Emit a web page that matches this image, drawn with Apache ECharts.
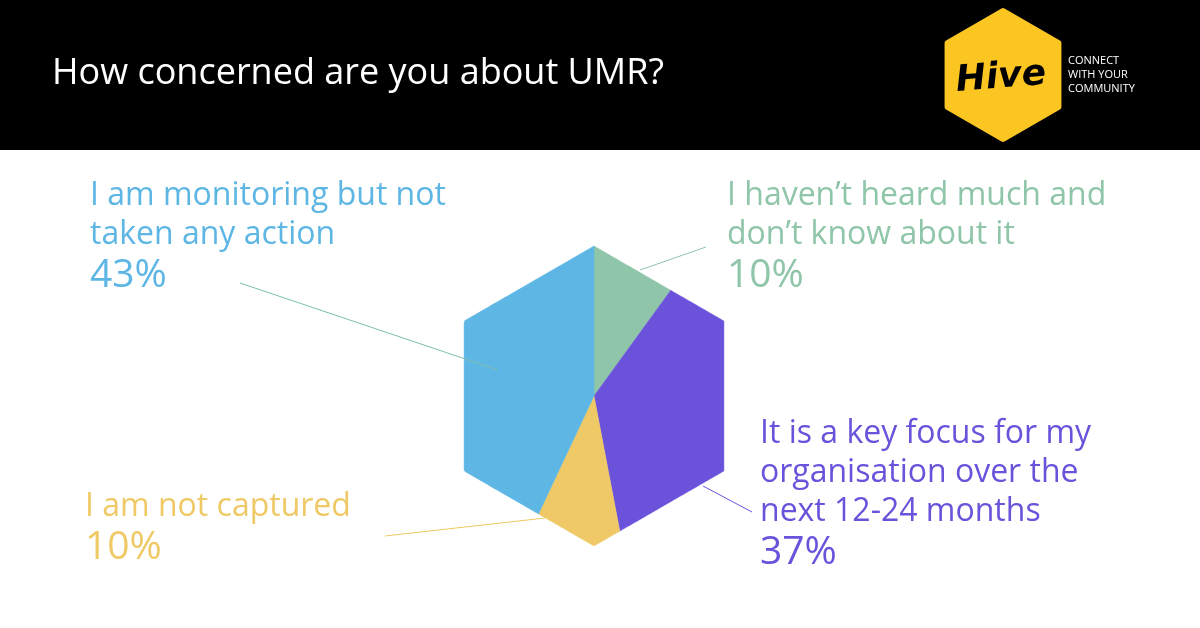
<!DOCTYPE html>
<html>
<head>
<meta charset="utf-8">
<title>How concerned are you about UMR?</title>
<script src="https://cdn.jsdelivr.net/npm/echarts@6/dist/echarts.min.js"></script>
<style>
  html, body { margin: 0; padding: 0; background: #fff; }
  #main { width: 1200px; height: 628px; }
</style>
</head>
<body>
<div id="main"></div>
<script type="text/javascript">
var categories = [
  "I haven\u2019t heard much and\ndon\u2019t know about it",
  "It is a key focus for my\norganisation over the\nnext 12-24 months",
  "I am not captured",
  "I am monitoring but not\ntaken any action"
];
var values = [10, 37, 10, 43];
var percentLabels = ["10%", "37%", "10%", "43%"];
var colors = ["#8fc5a8", "#6a52db", "#efc965", "#5db6e4"];
var lineColors = ["#8fc5a8", "#6a52db", "#efc965", "#7cbfae"];

var cx = 594, cy = 396, R = 150;
var total = values.reduce(function (a, b) { return a + b; }, 0);

// distance from centre to hexagon edge, angle in degrees clockwise from top
function hexR(deg) {
  var a = R * Math.sqrt(3) / 2;
  var d = ((deg % 60) + 60) % 60 - 30;
  return a / Math.cos(d * Math.PI / 180);
}
function hexPt(deg) {
  var r = hexR(deg), t = deg * Math.PI / 180;
  return [cx + r * Math.sin(t), cy - r * Math.cos(t)];
}

// label layout
var labelPos = [
  { x: 727, y: 197, line: [[640, 270], [706, 247]] },
  { x: 760, y: 435, line: [[703, 486], [752, 512]] },
  { x: 85, y: 508, line: [[545, 518], [385, 536]] },
  { x: 90, y: 197, line: [[498, 370], [240, 283]] }
];

var starts = [], acc = 0;
values.forEach(function (v) { starts.push(acc / total * 360); acc += v; });

var graphics = [
  { type: 'rect', shape: { x: 0, y: 0, width: 1200, height: 150 }, style: { fill: '#000' } },
  { type: 'text', left: 52, top: 56, style: { text: 'How concerned are you about UMR?', fill: '#fff', font: '36px "Open Sans", sans-serif' } },
  { type: 'polygon', shape: { points: (function () {
      var p = []; for (var i = 0; i < 6; i++) { var t = i * Math.PI / 3; p.push([1003 + 64 * Math.sin(t), 75 - 64 * Math.cos(t)]); } return p; })() },
    style: { fill: '#fcc622', stroke: '#fcc622', lineWidth: 6, lineJoin: 'round' } },
  { type: 'text', x: 1001, y: 78, rotation: 0.08, style: { text: 'Hive', fill: '#000', font: 'italic bold 36px "DejaVu Sans", sans-serif', align: 'center', verticalAlign: 'middle' } },
  { type: 'text', left: 1068, top: 54, style: { text: 'CONNECT\nWITH YOUR\nCOMMUNITY', fill: '#fff', font: '11px "Open Sans", sans-serif', lineHeight: 14 } }
];

categories.forEach(function (c, i) {
  var p = labelPos[i];
  var lines = c.split('\n').length;
  graphics.push({ type: 'line', zlevel: 1, shape: { x1: p.line[0][0], y1: p.line[0][1], x2: p.line[1][0], y2: p.line[1][1] },
    style: { stroke: lineColors[i], lineWidth: 1 } });
  graphics.push({ type: 'text', left: p.x, top: p.y - 21, style: { text: c, fill: colors[i], font: '32px "Open Sans", sans-serif', lineHeight: 39 } });
  graphics.push({ type: 'text', left: p.x, top: p.y - 21 + lines * 39 + 2, style: { text: percentLabels[i], fill: colors[i], font: '39px "Open Sans", sans-serif' } });
});

var myChart = echarts.init(document.getElementById('main'));
var option = {
  animation: false,
  graphic: graphics,
  series: [{
    type: 'custom',
    coordinateSystem: 'none',
    data: values.map(function (v, i) { return [i, v]; }),
    renderItem: function (params, api) {
      var i = api.value(0);
      var a0 = starts[i], a1 = a0 + api.value(1) / total * 360;
      var pts = [[cx, cy]];
      for (var d = a0; d < a1; d += 1) pts.push(hexPt(d));
      pts.push(hexPt(a1));
      return { type: 'polygon', shape: { points: pts }, style: { fill: colors[i], stroke: colors[i], lineWidth: 0.5 } };
    }
  }]
};
myChart.setOption(option);
</script>
</body>
</html>
